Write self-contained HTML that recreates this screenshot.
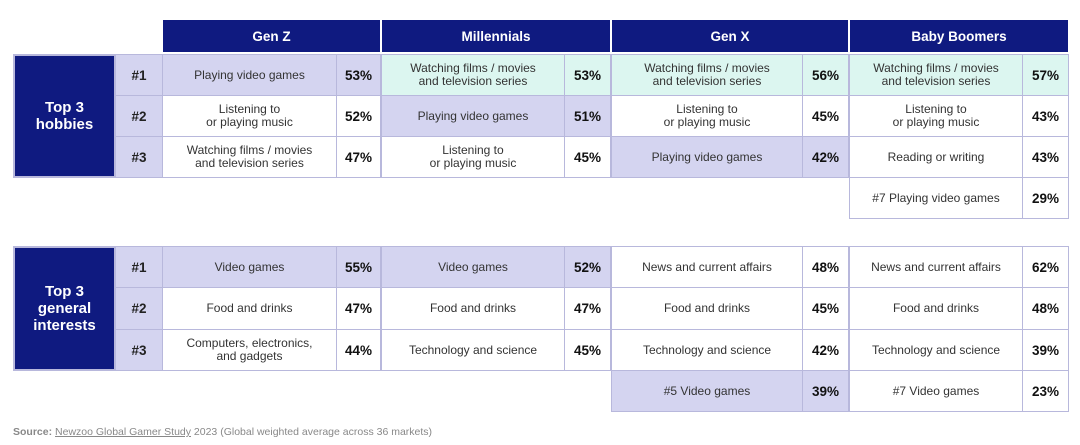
<!DOCTYPE html>
<html><head><meta charset="utf-8"><style>
body{margin:0;width:1080px;height:445px;background:#fff;font-family:"Liberation Sans",sans-serif;position:relative;overflow:hidden}
.c{position:absolute;box-sizing:border-box;border:1px solid #b8b8dc;display:flex;align-items:center;justify-content:center;text-align:center;font-size:12px;color:#333;line-height:13px}
.h{background:#0f1a80;color:#fff;font-weight:bold;font-size:13.5px;border-color:#fff}
.t{background:#0f1a80;color:#fff;font-weight:bold;font-size:15px;line-height:17px;border:2px solid #b8b8dc}
.p{font-weight:bold;font-size:13.5px;color:#111}
.r{font-weight:bold;font-size:13.5px;color:#222}
.L{background:#d4d4f0}.M{background:#dcf6f0}.W{background:#fff}
#src{position:absolute;left:13px;top:426px;font-size:10.5px;color:#888}
</style></head><body>
<div id="src"><b>Source:</b> <u>Newzoo Global Gamer Study</u> 2023 (Global weighted average across 36 markets)</div>
<script>
const groups=["Gen Z","Millennials","Gen X","Baby Boomers"];
const hobbyLabels=[["Playing video games","Listening to<br>or playing music","Watching films / movies<br>and television series"],["Watching films / movies<br>and television series","Playing video games","Listening to<br>or playing music"],["Watching films / movies<br>and television series","Listening to<br>or playing music","Playing video games"],["Watching films / movies<br>and television series","Listening to<br>or playing music","Reading or writing","#7 Playing video games"]];
const hobbyValues=[[53,52,47],[53,51,45],[56,45,42],[57,43,43,29]];
const hobbyFill=[["L","W","W"],["M","L","W"],["M","W","L"],["M","W","W","W"]];
const intLabels=[["Video games","Food and drinks","Computers, electronics,<br>and gadgets"],["Video games","Food and drinks","Technology and science"],["News and current affairs","Food and drinks","Technology and science","#5 Video games"],["News and current affairs","Food and drinks","Technology and science","#7 Video games"]];
const intValues=[[55,47,44],[52,47,45],[48,45,42,39],[62,48,39,23]];
const intFill=[["L","W","W"],["L","W","W"],["W","W","W","L"],["W","W","W","W"]];
const gx=[162,381,611,849,1069], px=[336,564,802,1022];
const rows1=[54,95,136,177,218], rows2=[246,287,329,370,411];
function cell(x,y,w,h,cls,html,name,inter){const d=document.createElement('div');d.className='c '+cls;d.style.left=x+'px';d.style.top=y+'px';d.style.width=(w+1)+'px';d.style.height=(h+1)+'px';d.innerHTML=html;


document.body.appendChild(d);}
groups.forEach((g,i)=>cell(gx[i],19,gx[i+1]-gx[i]-1,33,'h',g,'header-'+g.toLowerCase().replace(/ /g,'-'),false));
function table(rows,labels,values,fill,title,key){
 cell(13,rows[0],102,rows[3]-rows[0],'t',title,key+'-title',false);
 for(let r=0;r<3;r++)cell(115,rows[r],47,rows[r+1]-rows[r],'L r','#'+(r+1),key+'-rank-'+(r+1),false);
 labels.forEach((col,i)=>col.forEach((t,r)=>{
  cell(gx[i],rows[r],px[i]-gx[i],rows[r+1]-rows[r],fill[i][r],t,key+'-label-'+i+'-'+r,false);
  cell(px[i],rows[r],gx[i+1]-px[i]-1,rows[r+1]-rows[r],fill[i][r]+' p',values[i][r]+'%',key+'-value-'+i+'-'+r,false);
 }));
}
table(rows1,hobbyLabels,hobbyValues,hobbyFill,'Top 3<br>hobbies','hobbies');
table(rows2,intLabels,intValues,intFill,'Top 3<br>general<br>interests','interests');
</script>
</body></html>
